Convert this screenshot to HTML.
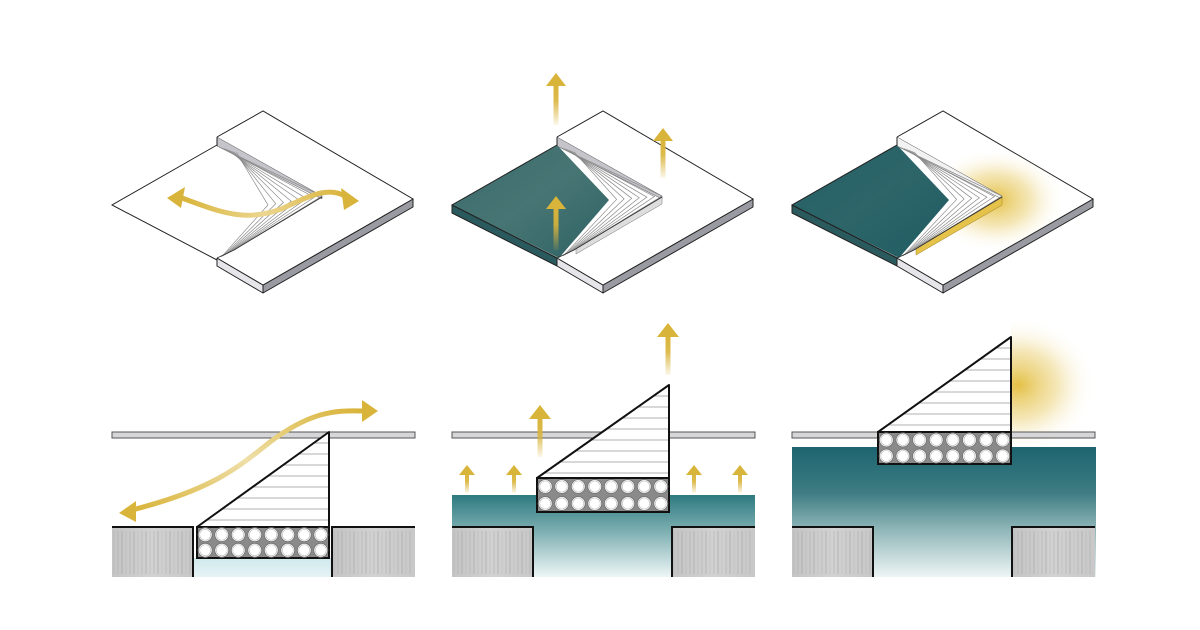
<!DOCTYPE html>
<html><head><meta charset="utf-8"><style>html,body{margin:0;padding:0;background:#fff}svg{display:block}</style></head>
<body>
<svg id="s" width="1200" height="630" viewBox="0 0 1200 630" xmlns="http://www.w3.org/2000/svg">
<defs>
<linearGradient id="teal" x1="0" y1="0" x2="1" y2="1"><stop offset="0" stop-color="#3a6a6b"/><stop offset="0.5" stop-color="#477574"/><stop offset="1" stop-color="#2f6264"/></linearGradient>
<linearGradient id="teal3" x1="0" y1="0" x2="1" y2="1"><stop offset="0" stop-color="#236066"/><stop offset="0.5" stop-color="#2d6569"/><stop offset="1" stop-color="#1f5c62"/></linearGradient>
<linearGradient id="water2" x1="0" y1="0" x2="0" y2="1"><stop offset="0" stop-color="#2d7a80"/><stop offset="0.45" stop-color="#7fb0b3"/><stop offset="1" stop-color="#eef6f6"/></linearGradient>
<linearGradient id="water3" x1="0" y1="0" x2="0" y2="1"><stop offset="0" stop-color="#1d6470"/><stop offset="0.35" stop-color="#3d7c82"/><stop offset="0.65" stop-color="#94b9bb"/><stop offset="1" stop-color="#eef5f5"/></linearGradient>
<linearGradient id="water1" x1="0" y1="0" x2="0" y2="1"><stop offset="0" stop-color="#cfe8ec"/><stop offset="1" stop-color="#e6f3f5"/></linearGradient>
<linearGradient id="ground" x1="0" y1="0" x2="1" y2="0"><stop offset="0" stop-color="#c4c4c4"/><stop offset="0.5" stop-color="#d2d2d2"/><stop offset="1" stop-color="#c8c8c8"/></linearGradient>
<linearGradient id="fadeUp" x1="0" y1="1" x2="0" y2="0"><stop offset="0" stop-color="#d9b43a" stop-opacity="0.1"/><stop offset="0.6" stop-color="#d9b43a" stop-opacity="0.9"/><stop offset="1" stop-color="#d9b43a"/></linearGradient>
<radialGradient id="glow"><stop offset="0" stop-color="#e2bd3c" stop-opacity="0.95"/><stop offset="0.5" stop-color="#ecd27a" stop-opacity="0.55"/><stop offset="1" stop-color="#fff" stop-opacity="0"/></radialGradient>
<linearGradient id="curve" x1="0" y1="0" x2="1" y2="0"><stop offset="0" stop-color="#d9b43a"/><stop offset="0.5" stop-color="#ecd690"/><stop offset="1" stop-color="#d9b43a"/></linearGradient>
<linearGradient id="curve2" x1="0" y1="1" x2="1" y2="0"><stop offset="0" stop-color="#d9b43a"/><stop offset="0.5" stop-color="#efdfa8"/><stop offset="1" stop-color="#d9b43a"/></linearGradient>
<clipPath id="right3"><rect x="1011" y="300" width="120" height="150"/></clipPath>
<clipPath id="slab3"><polygon points="897,137 943,111 1093,199 943,285 897,258 1002,196"/></clipPath>
</defs>
<g id="g"></g>
</svg>
<script>
var g=document.getElementById('g'),h='';
function P(pts,f,s,w){return '<polygon points="'+pts+'" fill="'+f+'" stroke="'+(s||'none')+'" stroke-width="'+(w||1)+'" stroke-linejoin="round"/>';}
function L(x1,y1,x2,y2,s,w){return '<line x1="'+x1+'" y1="'+y1+'" x2="'+x2+'" y2="'+y2+'" stroke="'+s+'" stroke-width="'+w+'"/>';}
function arrowUp(x,y1,y2,w,hw,hh){ hh=hh||hw*1.3;
 return '<rect x="'+(x-w/2)+'" y="'+(y2+hh-1)+'" width="'+w+'" height="'+(y1-y2-hh+1)+'" fill="url(#fadeUp)"/>'+
 P((x-hw)+','+(y2+hh)+' '+x+','+y2+' '+(x+hw)+','+(y2+hh),'#d9b43a');}
for(var p=0;p<3;p++){
 var d=p*340;
 function X(x){return x+d;}
 var t=8;
 var tipIn=p?[X(269),200]:[X(268),205], tipOut=[X(322),196];
 if(p) h+=P(X(112)+',205 '+X(217)+',258 '+X(217)+',266 '+X(112)+','+(205+t),'#2a5a5d','#222',1);
 h+=P(X(217)+',258 '+X(263)+',285 '+X(263)+',293 '+X(217)+',266','#e6e6ea','#222',1);
 h+=P(X(263)+',285 '+X(413)+',199 '+X(413)+',207 '+X(263)+',293','#9a9aa2','#222',1);
 // right slab (no stroke on seam)
 h+=P(X(217)+',137 '+X(263)+',111 '+X(413)+',199 '+X(263)+',285 '+X(217)+',258','#fff');
 h+='<polyline points="'+X(217)+',137 '+X(263)+',111 '+X(413)+',199 '+X(263)+',285 '+X(217)+',258" fill="none" stroke="#222" stroke-width="1"/>';
 if(p==2){h+='<ellipse cx="995" cy="200" rx="70" ry="52" fill="url(#glow)" clip-path="url(#slab3)"/>';}
 // notch white
 h+=P(X(217)+',145 '+tipOut[0]+','+tipOut[1]+' '+X(234)+',250 '+X(219)+',258 '+tipIn[0]+','+tipIn[1],'#fff');
 // left face (merged with teal V for p>0)
 if(p) h+=P(X(112)+',205 '+X(217)+',145 '+tipIn[0]+','+tipIn[1]+' '+X(219)+',258',p==1?'url(#teal)':'url(#teal3)');
 else h+=P(X(112)+',205 '+X(217)+',145 '+X(217)+',258','#fff');
 h+='<polyline points="'+X(217)+',145 '+X(112)+',205 '+X(217)+','+(p?258:260)+'" fill="none" stroke="#222" stroke-width="1"/>';
 h+=P(X(217)+',137 '+X(322)+',196 '+X(322)+',199 '+X(217)+',146',p==2?'#f2f2f2':'#c4c4ca','#555',0.5);
 if(p==2){h+=P(X(322)+',197 '+X(236)+',248 '+X(236)+',255 '+X(322)+',205','#e5c24a','#a08020',0.5);}
 else if(p==1){h+=P(X(322)+',197 '+X(236)+',248 '+X(236)+',254 '+X(322)+',204','#ddd','#777',0.5);}
 for(var i=0;i<8;i++){
  var f=i/7, tx=tipOut[0]+(tipIn[0]-tipOut[0])*f, ty=tipOut[1]+(tipIn[1]-tipOut[1])*f;
  var sx=X(219)+i*2.5, sy=147+i*0.8, ex=X(234)-i*1.8, ey=250+i*1;
  if(p&&i==7) continue;
  h+='<polyline points="'+sx+','+sy+' '+tx+','+ty+' '+ex+','+ey+'" fill="none" stroke="#8a8a8a" stroke-width="0.7"/>';
 }
 h+='<polyline points="'+X(322)+',197 '+X(234)+',250 '+X(217)+',258" fill="none" stroke="#333" stroke-width="0.9"/>';
 h+=L(X(217),137,X(217),146,'#222',1);h+=L(X(217),258,X(217),266,'#222',1);
 // ---- bottom section
 var gy=527,bot=577,lb=[X(112),X(193)],rb=[X(332),X(415)];
 var bx0,bx1,by0,by1,ty2;
 if(p==0){bx0=X(197);bx1=X(329);by0=527;by1=558;ty2=432;
  h+='<rect x="'+X(193)+'" y="558" width="139" height="19" fill="url(#water1)"/>';}
 if(p==1){bx0=X(197);bx1=X(329);by0=478;by1=512;ty2=385;
  h+='<rect x="'+X(112)+'" y="495" width="303" height="82" fill="url(#water2)"/>';}
 if(p==2){bx0=X(198);bx1=X(331);by0=432;by1=464;ty2=337;
  h+='<ellipse cx="1018" cy="385" rx="78" ry="68" fill="url(#glow)" clip-path="url(#right3)"/>';
  h+='<rect x="'+X(112)+'" y="447" width="304" height="130" fill="url(#water3)"/>';}
 h+='<rect x="'+X(112)+'" y="432" width="303" height="6" fill="#d6d6d8" stroke="#555" stroke-width="1"/>';
 h+='<rect x="'+lb[0]+'" y="'+gy+'" width="'+(lb[1]-lb[0])+'" height="'+(bot-gy)+'" fill="url(#ground)"/>';
 h+='<rect x="'+rb[0]+'" y="'+gy+'" width="'+(rb[1]-rb[0])+'" height="'+(bot-gy)+'" fill="url(#ground)"/>';
 for(var k=0;k<20;k++){var gx=lb[0]+2+k*4,o=(k%3)*0.2+0.3;h+=L(gx,gy+4,gx,bot-3,'#a8a8a8',o);gx=rb[0]+2+k*4;h+=L(gx,gy+4,gx,bot-3,'#a8a8a8',o);}
 h+='<polyline points="'+lb[0]+','+gy+' '+lb[1]+','+gy+' '+lb[1]+','+bot+'" fill="none" stroke="#111" stroke-width="2"/>';
 h+='<polyline points="'+rb[1]+','+gy+' '+rb[0]+','+gy+' '+rb[0]+','+bot+'" fill="none" stroke="#111" stroke-width="2"/>';
 h+=P(bx0+','+by0+' '+bx1+','+ty2+' '+bx1+','+by0,'#fff');
 for(var yy=ty2+11;yy<by0;yy+=11){var xl=bx0+(bx1-bx0)*(by0-yy)/(by0-ty2);h+=L(xl,yy,bx1,yy,'#999',0.8);}
 h+=P(bx0+','+by0+' '+bx1+','+ty2+' '+bx1+','+by0,'none','#111',2);
 h+='<rect x="'+bx0+'" y="'+by0+'" width="'+(bx1-bx0)+'" height="'+(by1-by0)+'" fill="#8a8a8a" stroke="#111" stroke-width="2"/>';
 var pw=(bx1-bx0)/8, ph=(by1-by0)/2;
 for(var r=0;r<2;r++)for(var c=0;c<8;c++){var cx=bx0+pw*(c+0.5),cy=by0+ph*(r+0.5);
  h+='<circle cx="'+cx+'" cy="'+cy+'" r="7" fill="#fff" stroke="#777" stroke-width="1"/><circle cx="'+cx+'" cy="'+cy+'" r="5.5" fill="none" stroke="#bbb" stroke-width="0.6"/>';}
}
h+='<path d="M182,198 C220,212 250,225 290,205 C315,193 330,188 345,196" fill="none" stroke="url(#curve)" stroke-width="5"/>';
h+=P('167,198 185,187 181,208','#d9b43a');h+=P('359,201 341,188 344,210','#d9b43a');
h+='<path d="M132,510 C210,490 235,470 270,442 C310,412 335,410 362,411" fill="none" stroke="url(#curve2)" stroke-width="5"/>';
h+=P('119,513 136,501 136,522','#d9b43a');h+=P('378,411 362,400 362,422','#d9b43a');
h+=arrowUp(556,125,73,5,10,13);h+=arrowUp(663,178,128,5,10,13);h+=arrowUp(556,250,196,5,10,13);
h+=arrowUp(668,375,323,5,11,14);h+=arrowUp(540,457,405,5,11,14);
[467,514,694,740].forEach(function(x){h+=arrowUp(x,493,465,4,8,10);});
g.innerHTML=h;
</script>
</body></html>
